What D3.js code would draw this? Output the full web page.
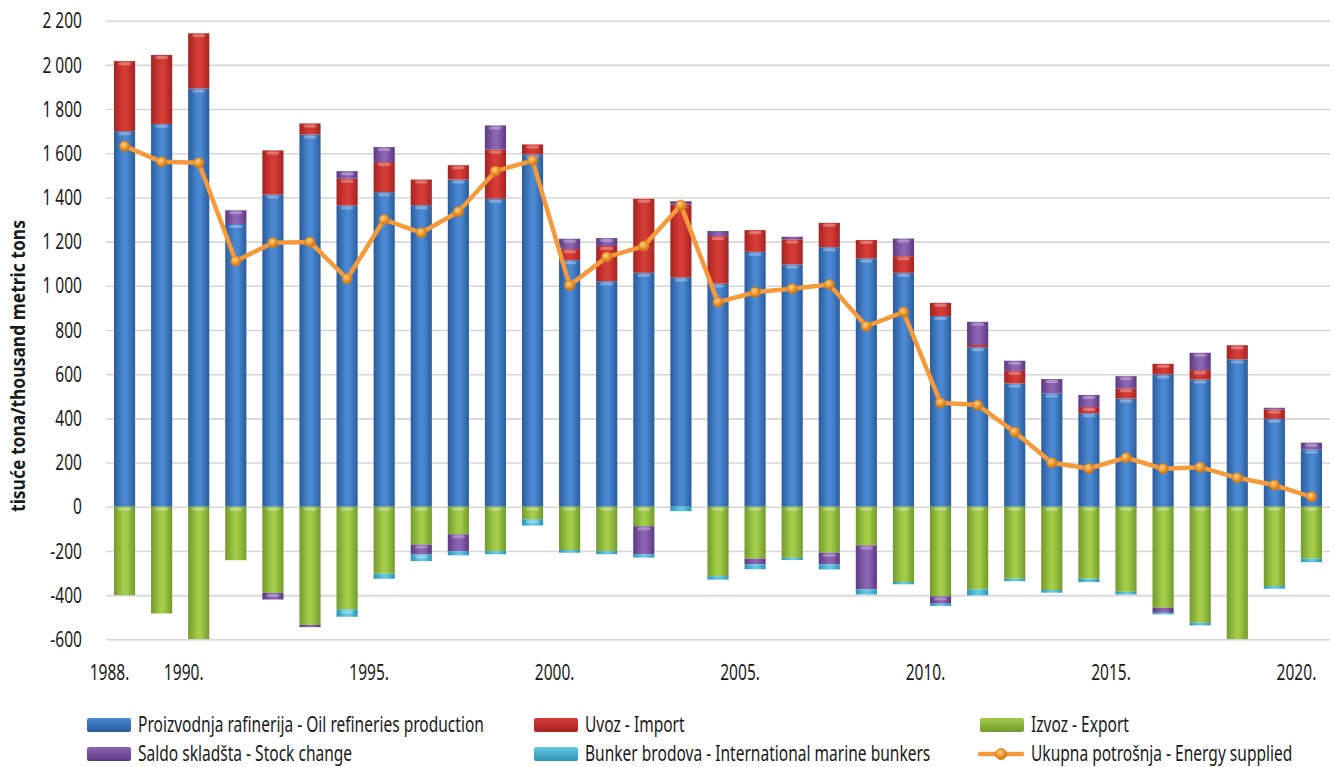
<!DOCTYPE html>
<html>
<head>
<meta charset="utf-8">
<script src="https://cdn.jsdelivr.net/npm/d3@7"></script>
<style>
  html, body { margin: 0; padding: 0; background: #ffffff; }
  svg { display: block; }
  text { font-family: "Noto Sans", "Open Sans", "DejaVu Sans", sans-serif; fill: #1a1a1a; }
</style>
</head>
<body>
<svg id="chart" width="1334" height="767"></svg>
<script>
// ---------- DATA ----------
const years = [1988,1989,1990,1991,1992,1993,1994,1995,1996,1997,1998,1999,2000,2001,2002,2003,2004,2005,2006,2007,2008,2009,2010,2011,2012,2013,2014,2015,2016,2017,2018,2019,2020];
const production = [1700,1733,1893,1280,1413,1685,1364,1424,1365,1481,1394,1595,1116,1021,1059,1038,1010,1154,1097,1175,1124,1059,863,722,558,513,423,490,599,576,667,398,259];
const imports    = [317,312,250,0,200,50,121,136,116,65,223,45,50,159,335,330,215,98,113,110,83,75,60,10,57,0,28,46,48,42,64,42,0];
const exports    = [-400,-483,-600,-242,-390,-535,-465,-303,-171,-125,-201,-57,-196,-201,-88,0,-314,-235,-231,-208,-175,-341,-405,-374,-326,-377,-326,-385,-457,-525,-600,-359,-235];
const stockChange= [0,0,0,62,-30,-10,34,68,-45,-76,109,0,47,36,-128,15,23,-26,12,-53,-199,80,-34,105,46,65,55,55,-23,79,0,8,31];
const bunkers    = [0,0,0,0,0,0,-33,-23,-30,-19,-14,-28,-12,-14,-14,-20,-16,-22,-10,-23,-23,-10,-10,-27,-11,-12,-15,-12,-7,-12,0,-12,-16];
const energySupplied = [1632,1561,1557,1112,1195,1198,1032,1300,1240,1335,1519,1567,1002,1130,1180,1365,926,971,987,1006,817,881,471,460,338,199,173,222,172,179,131,98,45];
const yTicks = [-600,-400,-200,0,200,400,600,800,1000,1200,1400,1600,1800,2000,2200];
const xLabelYears = [1988,1990,1995,2000,2005,2010,2015,2020];
const seriesNames = {
  production: "Proizvodnja rafinerija - Oil refineries production",
  imports: "Uvoz - Import",
  exports: "Izvoz - Export",
  stockChange: "Saldo skladšta - Stock change",
  bunkers: "Bunker brodova - International marine bunkers",
  energy: "Ukupna potrošnja - Energy supplied"
};
const yTitle = "tisuće tona/thousand metric tons";

// ---------- SETUP ----------
const svg = d3.select("#chart");
const pLeft = 106, pRight = 1330, pTop = 20.7, pBottom = 639.3;
const FS = 21;

const rows = years.map((yr, i) => ({
  year: yr,
  production: production[i],
  imports: imports[i],
  exports: exports[i],
  stockChange: stockChange[i],
  bunkers: bunkers[i]
}));
const keys = ["production", "imports", "exports", "stockChange", "bunkers"];

const x = d3.scaleBand().domain(years).range([pLeft, pRight]).paddingInner(0.43).paddingOuter(0.215);
const y = d3.scaleLinear().domain([-600, 2200]).range([pBottom, pTop]);

const palette = {
  production: ["#2b5c9c", "#4a88d2"],
  imports:    ["#a52322", "#d63c36"],
  exports:    ["#739a2c", "#a2cc48"],
  stockChange:["#5c3a82", "#8c64b2"],
  bunkers:    ["#2b93b4", "#63c8e3"]
};

const defs = svg.append("defs");
Object.entries(palette).forEach(([k, [edge, mid]]) => {
  const g = defs.append("linearGradient").attr("id", "grad-" + k).attr("x1", "0").attr("x2", "1").attr("y1", "0").attr("y2", "0");
  g.append("stop").attr("offset", "0%").attr("stop-color", edge);
  g.append("stop").attr("offset", "45%").attr("stop-color", mid);
  g.append("stop").attr("offset", "60%").attr("stop-color", mid);
  g.append("stop").attr("offset", "100%").attr("stop-color", edge);
});
const mg = defs.append("radialGradient").attr("id", "grad-marker").attr("cx", "40%").attr("cy", "35%").attr("r", "65%");
mg.append("stop").attr("offset", "0%").attr("stop-color", "#fcd08a");
mg.append("stop").attr("offset", "55%").attr("stop-color", "#ee9a2e");
mg.append("stop").attr("offset", "100%").attr("stop-color", "#c96f12");
defs.append("clipPath").attr("id", "plotclip").append("rect")
  .attr("x", pLeft - 5).attr("y", pTop - 5).attr("width", pRight - pLeft + 10).attr("height", pBottom - pTop + 5);

// ---------- GRID ----------
const fmtLocale = d3.formatLocale({ decimal: ",", thousands: " ", grouping: [3], currency: ["", ""], minus: "-" });
const fmt = fmtLocale.format(",d");

const grid = svg.append("g").attr("transform", `translate(${pLeft},0)`)
  .call(d3.axisLeft(y).tickValues(yTicks).tickSize(-(pRight - pLeft)).tickFormat(""));
grid.select(".domain").remove();
grid.selectAll("line").attr("stroke", "#d6d6d6").attr("stroke-width", 1.6);

// ---------- Y AXIS ----------
const yAxis = svg.append("g").attr("transform", `translate(82,0)`)
  .call(d3.axisLeft(y).tickValues(yTicks).tickSize(0).tickPadding(0).tickFormat(fmt));
yAxis.select(".domain").remove();
yAxis.attr("font-family", null).attr("font-size", null);
yAxis.selectAll("text")
  .style("font-size", FS + "px").attr("fill", "#1a1a1a").attr("x", 0).attr("dy", "0.34em");

// ---------- BARS ----------
const stack = d3.stack().keys(keys).offset(d3.stackOffsetDiverging);
const stacked = stack(rows);

const barsG = svg.append("g").attr("clip-path", "url(#plotclip)");
stacked.forEach(layer => {
  barsG.append("g").selectAll("rect")
    .data(layer.filter(d => d[1] !== d[0]))
    .join("rect")
    .attr("x", d => x(d.data.year))
    .attr("width", x.bandwidth())
    .attr("y", d => y(Math.max(d[0], d[1])))
    .attr("height", d => Math.abs(y(d[0]) - y(d[1])))
    .attr("fill", `url(#grad-${layer.key})`);
  barsG.append("g").selectAll("rect")
    .data(layer.filter(d => Math.abs(y(d[0]) - y(d[1])) > 6))
    .join("rect")
    .attr("x", d => x(d.data.year) + x.bandwidth() * 0.2)
    .attr("width", x.bandwidth() * 0.6)
    .attr("y", d => y(Math.max(d[0], d[1])) + 1)
    .attr("height", 3)
    .attr("rx", 1.5)
    .attr("fill", "#ffffff").attr("opacity", 0.3);
});

// ---------- LINE ----------
const cx = yr => x(yr) + x.bandwidth() / 2;
const line = d3.line().x((d, i) => cx(years[i])).y(d => y(d));
svg.append("path").datum(energySupplied)
  .attr("d", line).attr("fill", "none")
  .attr("stroke", "#f59a3a").attr("stroke-width", 4.5).attr("stroke-linejoin", "round");
svg.append("g").selectAll("circle").data(energySupplied).join("circle")
  .attr("cx", (d, i) => cx(years[i])).attr("cy", d => y(d)).attr("r", 5)
  .attr("fill", "url(#grad-marker)").attr("stroke", "#d47c1a").attr("stroke-width", 0.8);

// ---------- X AXIS ----------
const xAxis = svg.append("g").attr("transform", `translate(0,${pBottom})`)
  .call(d3.axisBottom(x).tickValues(xLabelYears).tickSize(0).tickPadding(0).tickFormat(d => d + "."));
xAxis.select(".domain").remove();
xAxis.attr("font-family", null).attr("font-size", null);
xAxis.selectAll("text")
  .style("font-size", FS + "px").attr("fill", "#1a1a1a")
  .attr("y", 0).attr("dy", "0.35em");

// ---------- LEGEND ----------
const legendItems = [
  { key: "production", label: seriesNames.production, col: 0, row: 0 },
  { key: "imports", label: seriesNames.imports, col: 1, row: 0 },
  { key: "exports", label: seriesNames.exports, col: 2, row: 0 },
  { key: "stockChange", label: seriesNames.stockChange, col: 0, row: 1 },
  { key: "bunkers", label: seriesNames.bunkers, col: 1, row: 1 },
  { key: "energy", label: seriesNames.energy, col: 2, row: 1 }
];
const colX = [87, 534, 980], rowY = [725, 754];
const lg = svg.append("g");
legendItems.forEach(it => {
  const g = lg.append("g").attr("transform", `translate(${colX[it.col]},${rowY[it.row]})`);
  if (it.key === "energy") {
    g.append("line").attr("x1", 0).attr("x2", 42).attr("y1", 0).attr("y2", 0)
      .attr("stroke", "#f59a3a").attr("stroke-width", 4.5).attr("stroke-linecap", "round");
    g.append("circle").attr("cx", 21).attr("cy", 0).attr("r", 5.5)
      .attr("fill", "url(#grad-marker)").attr("stroke", "#d47c1a").attr("stroke-width", 0.8);
  } else {
    const lgGrad = defs.append("linearGradient").attr("id", "lgrad-" + it.key)
      .attr("x1", "0").attr("x2", "0").attr("y1", "0").attr("y2", "1");
    lgGrad.append("stop").attr("offset", "0%").attr("stop-color", palette[it.key][1]);
    lgGrad.append("stop").attr("offset", "100%").attr("stop-color", palette[it.key][0]);
    g.append("rect").attr("x", 0).attr("y", -7).attr("width", 44).attr("height", 14).attr("rx", 2)
      .attr("fill", `url(#lgrad-${it.key})`);
  }
  g.append("g").attr("class", "lbl").attr("transform", "translate(51,0)")
    .append("text").attr("class", "legend-label").attr("x", 0).attr("y", 0).attr("dy", "0.35em")
    .style("font-size", FS + "px").text(it.label);
});

// ---------- Y TITLE ----------
const yTitleG = svg.append("g").attr("transform", `translate(18,366) rotate(-90)`);
const yTitleText = yTitleG.append("text")
  .attr("text-anchor", "middle").attr("dy", "0.35em")
  .style("font-size", "20px").style("font-weight", "bold")
  .text(yTitle);

// ---------- CONDENSE TEXT (emulate a condensed typeface via horizontal scale) ----------
const k = 346 / lg.select("text.legend-label").node().getComputedTextLength();
lg.selectAll("text").attr("transform", `scale(${k},1)`);
yAxis.selectAll("text").attr("transform", `scale(${k},1)`);
// x labels sit ~15px left of the bar centre
xAxis.selectAll("text").attr("transform", `translate(-15,33) scale(${k},1)`);
const kt = Math.min(1, 292 / yTitleText.node().getComputedTextLength());
yTitleText.attr("transform", `scale(${kt},1)`);
</script>
</body>
</html>
